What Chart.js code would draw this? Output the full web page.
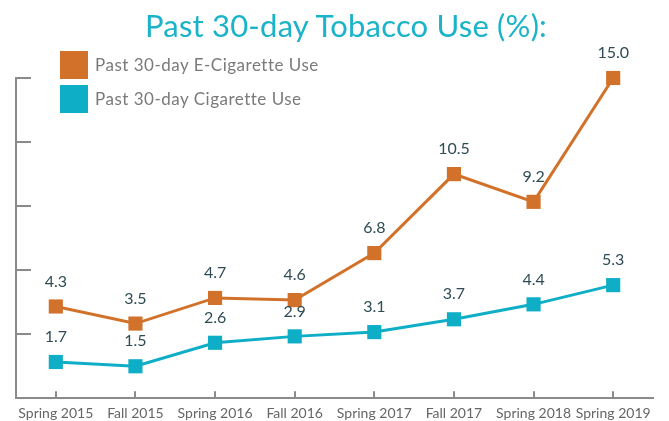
<!DOCTYPE html>
<html>
<head>
<meta charset="utf-8">
<script src="https://cdn.jsdelivr.net/npm/chart.js"></script>
<style>
  body { margin: 0; background: #fff; }
  #wrap { position: relative; width: 669px; height: 421px; }
  .title { position: absolute; left: 145px; top: 7px; font: 31px Lato, sans-serif; line-height: 37px; letter-spacing: 0.2px; color: #1ab3c9; white-space: nowrap; }
  .legend { position: absolute; left: 60px; font: 17px Lato, sans-serif; letter-spacing: 0.5px; color: #7a7a7a; }
  .legend span.box { position: absolute; left: 0; top: 0; width: 28px; height: 28px; }
  .legend span.txt { position: absolute; left: 35px; top: 3px; white-space: nowrap; }
</style>
</head>
<body>
<div id="wrap">
  <canvas id="graph"></canvas>
  <div class="title">Past 30-day Tobacco Use (%):</div>
  <div class="legend" style="top:51px"><span class="box" style="background:#d2722a"></span><span class="txt">Past 30-day E-Cigarette Use</span></div>
  <div class="legend" style="top:85px"><span class="box" style="background:#0eaec6"></span><span class="txt">Past 30-day Cigarette Use</span></div>
</div>
<script>
const terms = ['Spring 2015', 'Fall 2015', 'Spring 2016', 'Fall 2016', 'Spring 2017', 'Fall 2017', 'Spring 2018', 'Spring 2019'];
const eCigUse = [4.3, 3.5, 4.7, 4.6, 6.8, 10.5, 9.2, 15.0];
const cigUse = [1.7, 1.5, 2.6, 2.9, 3.1, 3.7, 4.4, 5.3];
const yTicks = [3, 6, 9, 12, 15];

const orange = '#d2722a';
const teal = '#0eaec6';
const axisGrey = '#8a8a8a';

// small inward tick marks on both axes + value labels above the points
const extras = {
    id: 'extras',
    afterDatasetsDraw(chart) {
        const { ctx, scales: { x, y } } = chart;
        ctx.save();
        ctx.strokeStyle = axisGrey;
        ctx.lineWidth = 2;
        ctx.beginPath();
        yTicks.forEach(v => {
            const py = Math.round(y.getPixelForValue(v));
            ctx.moveTo(x.left, py);
            ctx.lineTo(x.left + 15, py);
        });
        terms.forEach((t, i) => {
            const px = Math.round(x.getPixelForValue(i));
            ctx.moveTo(px, y.bottom);
            ctx.lineTo(px, y.bottom - 7);
        });
        ctx.stroke();

        ctx.fillStyle = '#2f4c55';
        ctx.font = '16px Lato, sans-serif';
        ctx.textAlign = 'center';
        ctx.textBaseline = 'middle';
        chart.data.datasets.forEach((ds, di) => {
            chart.getDatasetMeta(di).data.forEach((pt, i) => {
                ctx.fillText(ds.data[i].toFixed(1), pt.x, pt.y - 25);
            });
        });
        ctx.restore();
    }
};

new Chart(document.getElementById('graph'), {
    type: 'line',
    data: {
        labels: terms,
        datasets: [
            {
                label: 'Past 30-day E-Cigarette Use',
                data: eCigUse,
                borderColor: orange,
                backgroundColor: orange,
                borderWidth: 3,
                pointStyle: 'rect',
                pointRadius: 10,
                pointBorderWidth: 0,
                tension: 0,
                clip: false
            },
            {
                label: 'Past 30-day Cigarette Use',
                data: cigUse,
                borderColor: teal,
                backgroundColor: teal,
                borderWidth: 3,
                pointStyle: 'rect',
                pointRadius: 10,
                pointBorderWidth: 0,
                tension: 0,
                clip: false
            }
        ]
    },
    options: {
        responsive: true,
        maintainAspectRatio: false,
        animation: false,
        layout: { autoPadding: false, padding: { left: 8, right: 16, top: 78, bottom: 0 } },
        plugins: {
            legend: { display: false },
            tooltip: { enabled: false },
            title: { display: false }
        },
        scales: {
            x: {
                offset: true,
                grid: { display: false },
                border: { display: true, color: axisGrey, width: 2 },
                ticks: { color: '#666', font: { family: 'Lato', size: 14, lineHeight: 1.05 }, padding: 0, maxRotation: 0, autoSkip: false }
            },
            y: {
                min: 0,
                max: 15,
                grid: { display: false },
                border: { display: true, color: axisGrey, width: 2 },
                ticks: { display: false, stepSize: 3 }
            }
        }
    },
    plugins: [extras]
});
</script>
</body>
</html>
